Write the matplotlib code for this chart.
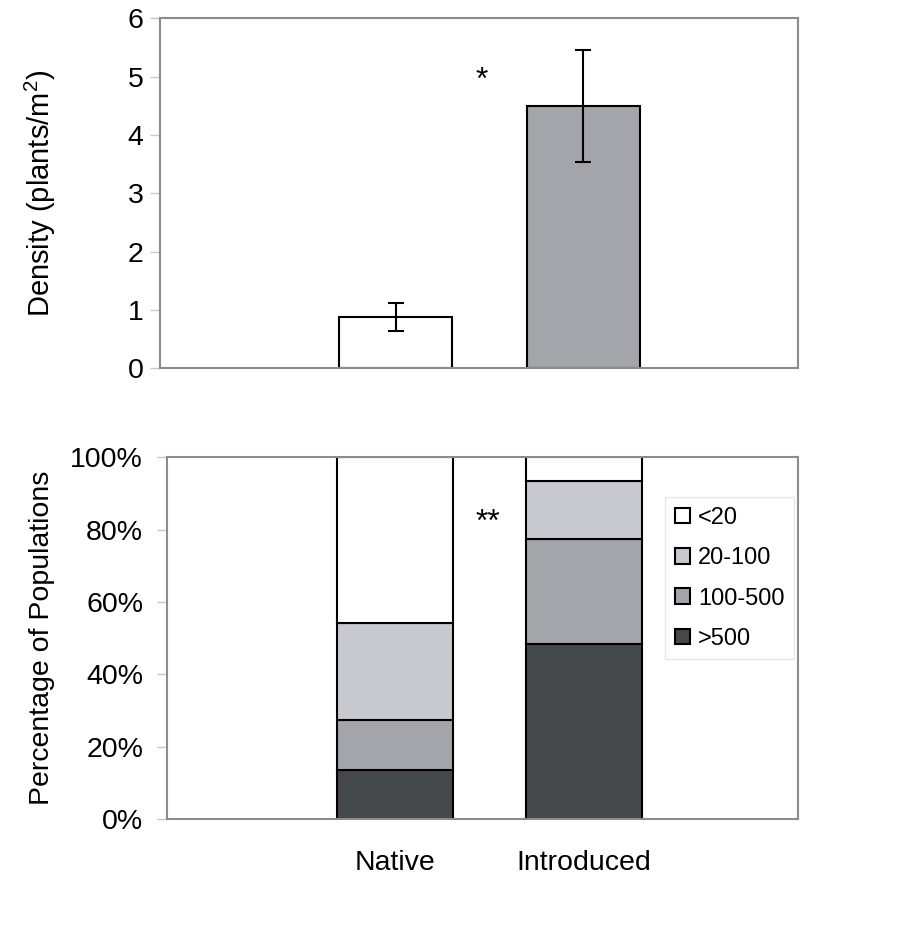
import matplotlib

matplotlib.use("Agg")
import matplotlib.pyplot as plt

plt.rcParams["font.family"] = ["Liberation Sans", "DejaVu Sans"]
plt.rcParams["mathtext.fontset"] = "custom"
plt.rcParams["mathtext.rm"] = "Liberation Sans"
plt.rcParams["mathtext.default"] = "regular"

# data
categories = ["Native", "Introduced"]
density_mean = [0.88, 4.49]
density_err = [0.24, 0.96]
density_colors = ["white", "#a3a5ab"]

size_classes = [">500", "100-500", "20-100", "<20"]  # bottom to top
pct_native = [13.5, 13.8, 26.9, 45.8]
pct_introduced = [48.5, 29.0, 15.9, 6.6]
class_colors = ["#45484b", "#a3a5ab", "#c8c9d0", "white"]

FRAME = "#8c8c8c"
TICK = "#c8c8c8"
FS = 20.5
x = list(range(len(categories)))

fig = plt.figure(figsize=(9.16, 9.34), dpi=100)
ax1 = fig.add_axes([0.1747, 0.6057, 0.6965, 0.3747])
ax2 = fig.add_axes([0.1820, 0.1228, 0.6892, 0.3876])

# top: density
ax1.bar(x, density_mean, width=0.6, color=density_colors,
        edgecolor="black", linewidth=1.5, zorder=2)
ax1.errorbar(x, density_mean, yerr=density_err, fmt="none", ecolor="black",
             elinewidth=1.5, capsize=5.5, capthick=1.5, zorder=3)
ax1.text(0.458, 4.93, "*", ha="center", va="center", fontsize=23)
ax1.set_xlim(-1.256, 2.145)
ax1.set_ylim(0, 6)
ax1.set_yticks(range(0, 7))
ax1.set_xticks([])
ax1.set_ylabel(r"Density (plants/m$^{2}$)", fontsize=21)
ax1.yaxis.set_label_coords(-0.188, 0.5)
ax1.yaxis.label.set_va("center")
ax1.tick_params(axis="y", pad=5)

# bottom: population size classes
bottom_n = 0.0
bottom_i = 0.0
handles = []
for name, pn, pi, col in zip(size_classes, pct_native, pct_introduced, class_colors):
    h = ax2.bar(x, [pn, pi], bottom=[bottom_n, bottom_i], width=0.61,
                color=col, edgecolor="black", linewidth=1.5, label=name, zorder=2)
    handles.append(h)
    bottom_n += pn
    bottom_i += pi
ax2.text(0.494, 82.0, "**", ha="center", va="center", fontsize=23)
ax2.set_xlim(-1.203, 2.128)
ax2.set_ylim(0, 100)
ax2.set_yticks(range(0, 101, 20))
ax2.set_yticklabels([f"{v}%" for v in range(0, 101, 20)])
ax2.set_xticks(x)
ax2.set_xticklabels(categories)
ax2.set_ylabel("Percentage of Populations", fontsize=FS)
ax2.yaxis.set_label_coords(-0.1975, 0.5)
ax2.yaxis.label.set_va("center")
ax2.tick_params(axis="x", length=0, pad=22, labelsize=FS)
ax2.tick_params(axis="y", pad=10)

leg = ax2.legend(handles[::-1], size_classes[::-1], loc="upper left",
                 bbox_to_anchor=(0.79, 0.8895), borderaxespad=0, fontsize=17,
                 frameon=True, fancybox=False, edgecolor="#e0e0e0",
                 handlelength=0.64, handleheight=0.64, handletextpad=0.35,
                 labelspacing=0.78, borderpad=0.4)
leg.get_frame().set_linewidth(1.0)

for ax in (ax1, ax2):
    for sp in ax.spines.values():
        sp.set_color(FRAME)
        sp.set_linewidth(1.5)
    ax.tick_params(axis="y", length=7, width=1, color=TICK, labelsize=FS)

fig.savefig("out.png", dpi=100)
